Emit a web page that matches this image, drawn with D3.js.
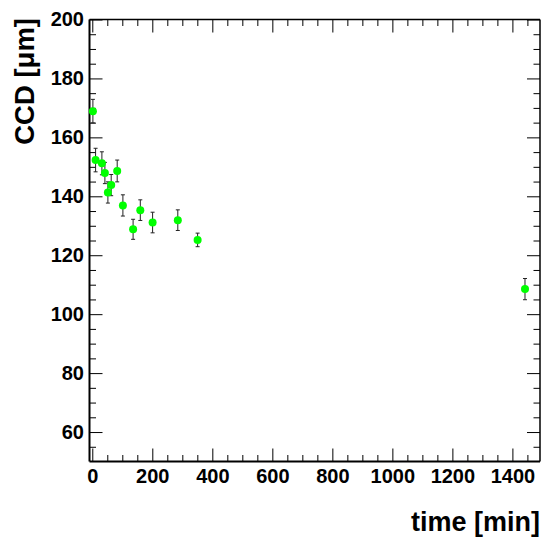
<!DOCTYPE html>
<html>
<head>
<meta charset="utf-8">
<script src="https://cdn.jsdelivr.net/npm/d3@7"></script>
<style>
  html, body { margin: 0; padding: 0; background: #fff; }
  svg { display: block; }
  text { font-family: "Liberation Sans", Arial, Helvetica, sans-serif; font-weight: bold; fill: #000; }
</style>
</head>
<body>
<svg id="chart" width="544" height="540"></svg>
<script>
// Measured capillary diameter over time
const timeMin = [2, 11, 32, 42, 52, 63, 83, 102, 136, 160, 201, 285, 351, 1442];
const ccdUm   = [168.9, 152.3, 151.2, 147.9, 141.3, 143.8, 148.6, 136.9, 128.8, 135.3, 131.1, 131.9, 125.2, 108.5];
const ccdErr  = [4.0, 4.0, 3.9, 3.6, 3.6, 3.6, 3.7, 3.6, 3.4, 3.5, 3.5, 3.5, 2.3, 3.6];

const xMajorTicks = [0, 200, 400, 600, 800, 1000, 1200, 1400];
const yMajorTicks = [60, 80, 100, 120, 140, 160, 180, 200];
const xTitle = "time [min]";
const yTitle = "CCD [\u03bcm]";

const frame = { left: 89.5, right: 540, top: 19.5, bottom: 461.5 };
const xDomain = [-9.3, 1492];
const yDomain = [50, 200];

const svg = d3.select("#chart");
const x = d3.scaleLinear().domain(xDomain).range([frame.left, frame.right]);
const y = d3.scaleLinear().domain(yDomain).range([frame.bottom, frame.top]);

const xMinorTicks = d3.range(0, xDomain[1], 50).filter(v => !xMajorTicks.includes(v));
const yMinorTicks = d3.range(55, yDomain[1], 5).filter(v => !yMajorTicks.includes(v));

const MAJOR = 13, MINOR = 6.5;

function styleTicks(g) {
  g.select(".domain").remove();
  g.selectAll(".tick line").attr("stroke", "#000").attr("stroke-width", 1);
}

// bottom axis: major ticks with labels, minor ticks without
svg.append("g").attr("transform", `translate(0,${frame.bottom})`)
  .call(d3.axisBottom(x).tickValues(xMajorTicks).tickSizeInner(-MAJOR).tickSizeOuter(0).tickPadding(7).tickFormat(d3.format("d")))
  .call(styleTicks)
  .call(g => g.selectAll("text").attr("font-size", 20).attr("fill", "#000"));
svg.append("g").attr("transform", `translate(0,${frame.bottom})`)
  .call(d3.axisBottom(x).tickValues(xMinorTicks).tickSizeInner(-MINOR).tickSizeOuter(0).tickFormat(""))
  .call(styleTicks);

// top axis: ticks only
svg.append("g").attr("transform", `translate(0,${frame.top})`)
  .call(d3.axisTop(x).tickValues(xMajorTicks).tickSizeInner(-MAJOR).tickSizeOuter(0).tickFormat(""))
  .call(styleTicks);
svg.append("g").attr("transform", `translate(0,${frame.top})`)
  .call(d3.axisTop(x).tickValues(xMinorTicks).tickSizeInner(-MINOR).tickSizeOuter(0).tickFormat(""))
  .call(styleTicks);

// left axis
svg.append("g").attr("transform", `translate(${frame.left},0)`)
  .call(d3.axisLeft(y).tickValues(yMajorTicks).tickSizeInner(-MAJOR).tickSizeOuter(0).tickPadding(5.5).tickFormat(d3.format("d")))
  .call(styleTicks)
  .call(g => g.selectAll("text").attr("font-size", 20).attr("fill", "#000"));
svg.append("g").attr("transform", `translate(${frame.left},0)`)
  .call(d3.axisLeft(y).tickValues(yMinorTicks).tickSizeInner(-MINOR).tickSizeOuter(0).tickFormat(""))
  .call(styleTicks);

// right axis: ticks only
svg.append("g").attr("transform", `translate(${frame.right},0)`)
  .call(d3.axisRight(y).tickValues(yMajorTicks).tickSizeInner(-MAJOR).tickSizeOuter(0).tickFormat(""))
  .call(styleTicks);
svg.append("g").attr("transform", `translate(${frame.right},0)`)
  .call(d3.axisRight(y).tickValues(yMinorTicks).tickSizeInner(-MINOR).tickSizeOuter(0).tickFormat(""))
  .call(styleTicks);

// frame
svg.append("line").attr("x1", frame.left).attr("x2", frame.right).attr("y1", frame.bottom).attr("y2", frame.bottom)
  .attr("stroke", "#000").attr("stroke-width", 2);
svg.append("line").attr("x1", frame.left).attr("x2", frame.left).attr("y1", frame.top).attr("y2", frame.bottom)
  .attr("stroke", "#000").attr("stroke-width", 2);
svg.append("line").attr("x1", frame.left).attr("x2", frame.right).attr("y1", frame.top).attr("y2", frame.top)
  .attr("stroke", "#000").attr("stroke-width", 1.5);
svg.append("line").attr("x1", frame.right).attr("x2", frame.right).attr("y1", frame.top).attr("y2", frame.bottom)
  .attr("stroke", "#000").attr("stroke-width", 1.5);

// data points with error bars
const data = timeMin.map((t, i) => ({ t, v: ccdUm[i], e: ccdErr[i] }));
const pts = svg.append("g");
const eb = pts.selectAll("g.err").data(data).enter().append("g").attr("class", "err")
  .attr("stroke", "#222").attr("stroke-width", 1);
eb.append("line")
  .attr("x1", d => x(d.t)).attr("x2", d => x(d.t))
  .attr("y1", d => y(d.v - d.e)).attr("y2", d => y(d.v + d.e));
eb.append("line")
  .attr("x1", d => x(d.t) - 2).attr("x2", d => x(d.t) + 2)
  .attr("y1", d => y(d.v - d.e)).attr("y2", d => y(d.v - d.e));
eb.append("line")
  .attr("x1", d => x(d.t) - 2).attr("x2", d => x(d.t) + 2)
  .attr("y1", d => y(d.v + d.e)).attr("y2", d => y(d.v + d.e));
pts.selectAll("circle").data(data).enter().append("circle")
  .attr("cx", d => x(d.t)).attr("cy", d => y(d.v)).attr("r", 4)
  .attr("fill", "#00ff00");

// axis titles
svg.append("text").attr("x", 540).attr("y", 531).attr("text-anchor", "end")
  .attr("font-size", 27).text(xTitle);
svg.append("text").attr("transform", "translate(34,18) rotate(-90)").attr("text-anchor", "end")
  .attr("font-size", 27.5).text(yTitle);
</script>
</body>
</html>
